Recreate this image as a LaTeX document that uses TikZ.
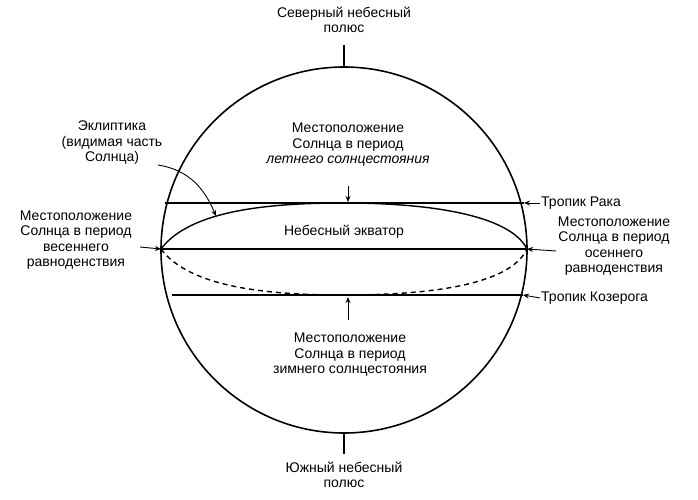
\documentclass[tikz,border=0pt]{standalone}
\usepackage{fontspec}
\setmainfont{Liberation Sans}
\usetikzlibrary{arrows.meta}
\begin{document}
\begin{tikzpicture}[x=1pt,y=-1pt,
  lbl/.style={align=center,font=\fontsize{14}{15.5}\selectfont,inner sep=1pt},
  arr/.style={-{Stealth[length=6pt,width=5pt]},line width=0.9pt},
  ln/.style={line width=1.1pt}]
\useasboundingbox (0,0) rectangle (698,500);
\coordinate (C) at (344,250);
\draw[line width=1.6pt] (C) circle [radius=183];
% poles
\coordinate (nt) at (344,45); \coordinate (nb) at (344,67);
\coordinate (st) at (344,433); \coordinate (sb) at (344,454);
\draw[line width=1.8pt] (nt)--(nb); \draw[line width=1.8pt] (st)--(sb);
\node[lbl] (np) at (344,20) {Северный небесный\\полюс};
\node[lbl] (sp) at (344,475) {Южный небесный\\полюс};
% lines
\coordinate (cl) at (165,203); \coordinate (cr) at (524,203);
\coordinate (el) at (161,249); \coordinate (er) at (527,249);
\coordinate (kl) at (172,295); \coordinate (kr) at (523,295);
\draw[ln] (cl)--(cr);
\draw[line width=1.6pt] (el)--(er);
\draw[ln] (kl)--(kr);
% ecliptic
\draw[line width=1.4pt] (el) .. controls (190,210) and (270,203) .. (344,203) .. controls (430,203) and (510,215) .. (er);
\draw[line width=1.4pt,dash pattern=on 5pt off 4pt] (el) .. controls (190,288) and (270,295) .. (344,295) .. controls (430,295) and (510,285) .. (er);
\node[lbl] (eq) at (344,232) {Небесный экватор};
% labels
\node[lbl] (ecl) at (112,143) {Эклиптика\\(видимая часть\\Солнца)};
\coordinate (eclT) at (216,216);
\draw[arr] (158,165) .. controls (190,170) and (205,190) .. (eclT);
\node[lbl] (spr) at (76,240) {Местоположение\\Солнца в период\\весеннего\\равноденствия};
\draw[arr] (140,247) -- (el);
\node[lbl] (sum) at (348,145) {Местоположение\\Солнца в период\\\itshape летнего солнцестояния};
\coordinate (sumT) at (348,202);
\draw[arr] (348,186) -- (sumT);
\node[lbl] (win) at (350,355) {Местоположение\\Солнца в период\\зимнего солнцестояния};
\coordinate (winT) at (348,297);
\draw[arr] (348,320) -- (winT);
\node[lbl,anchor=west] (cnc) at (540,203) {Тропик Рака};
\draw[arr] (cnc.west) -- (cr);
\node[lbl] (aut) at (614,246) {Местоположение\\Солнца в период\\осеннего\\равноденствия};
\draw[arr] (556,251) -- (er);
\node[lbl,anchor=west] (cap) at (540,298) {Тропик Козерога};
\draw[arr] (cap.west) -- (kr);
\end{tikzpicture}
\end{document}
